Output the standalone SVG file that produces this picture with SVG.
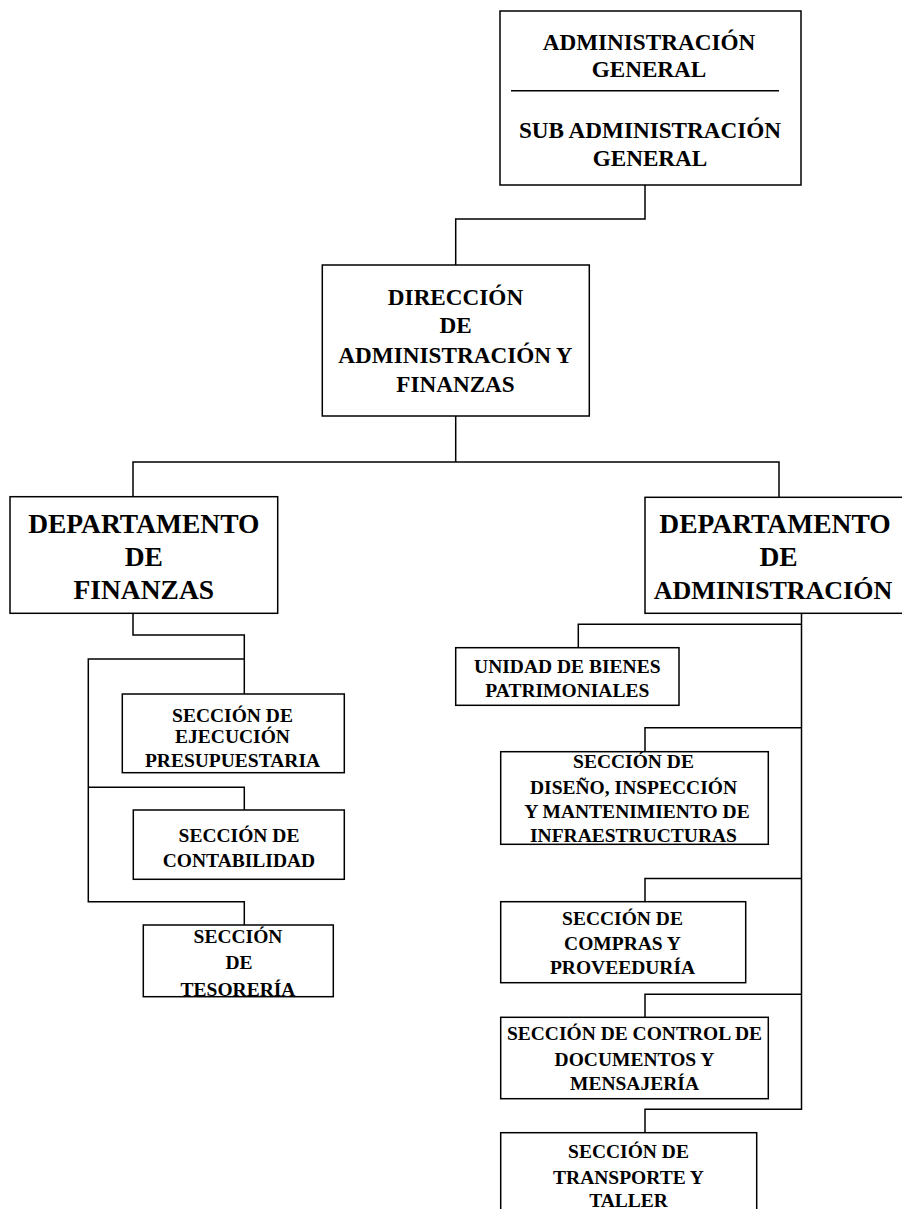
<svg xmlns="http://www.w3.org/2000/svg" width="902" height="1209" viewBox="0 0 902 1209">
<style>
.box{fill:#fff;stroke:#000;stroke-width:1.5}
.ln{fill:none;stroke:#000;stroke-width:1.5}
text{font-family:"Liberation Serif","Times New Roman",serif;font-weight:bold;fill:#000;text-anchor:middle}
.t23{font-size:23.2px}
.t27{font-size:27.5px}
.t19{font-size:19.5px}
</style>
<rect width="902" height="1209" fill="#fff"/>
<g id="connectors">
<polyline class="ln" points="645,185 645,219 455.7,219 455.7,265"/>
<polyline class="ln" points="455.7,416 455.7,462"/>
<polyline class="ln" points="133,497 133,462 779,462 779,497"/>
<polyline class="ln" points="133,613 133,635 244.3,635 244.3,694"/>
<polyline class="ln" points="244.3,659 88.3,659 88.3,901.7 244.3,901.7 244.3,925"/>
<polyline class="ln" points="88.3,787.3 244.3,787.3 244.3,810"/>
<polyline class="ln" points="801.5,613 801.5,1109.3 645,1109.3 645,1132.7"/>
<polyline class="ln" points="801.5,624.3 578.3,624.3 578.3,647.7"/>
<polyline class="ln" points="801.5,727.7 645,727.7 645,751.7"/>
<polyline class="ln" points="801.5,878.5 645,878.5 645,901.7"/>
<polyline class="ln" points="801.5,994.3 645,994.3 645,1017.3"/>
</g>
<g id="n-admin-general">
<rect class="box" x="500" y="11" width="301" height="174"/>
<line class="ln" x1="511" y1="90.7" x2="779" y2="90.7"/>
<text class="t23" x="649" y="50">ADMINISTRACIÓN</text>
<text class="t23" x="649" y="77.3">GENERAL</text>
<text class="t23" x="650" y="138">SUB ADMINISTRACIÓN</text>
<text class="t23" x="650" y="165.5">GENERAL</text>
</g>
<g id="n-direccion">
<rect class="box" x="322.3" y="265" width="267" height="151"/>
<text class="t23" x="455.5" y="305">DIRECCIÓN</text>
<text class="t23" x="455.5" y="333.3">DE</text>
<text class="t23" x="455.5" y="363.3">ADMINISTRACIÓN Y</text>
<text class="t23" x="455.5" y="392.3">FINANZAS</text>
</g>
<g id="n-dep-finanzas">
<rect class="box" x="10" y="496.7" width="267.7" height="116.6"/>
<text class="t27" x="143.8" y="532.7">DEPARTAMENTO</text>
<text class="t27" x="143.8" y="566">DE</text>
<text class="t27" x="143.8" y="599">FINANZAS</text>
</g>
<g id="n-dep-administracion">
<rect class="box" x="645" y="497.3" width="268" height="116"/>
<text class="t27" x="775" y="532.7">DEPARTAMENTO</text>
<text class="t27" x="778.5" y="566">DE</text>
<text x="773" y="599.3" style="font-size:26px">ADMINISTRACIÓN</text>
</g>
<g id="n-ejecucion">
<rect class="box" x="122.3" y="694" width="222" height="78.7"/>
<text class="t19" x="232.5" y="721.7">SECCIÓN DE</text>
<text class="t19" x="232.5" y="743.3">EJECUCIÓN</text>
<text class="t19" x="232.5" y="767.3">PRESUPUESTARIA</text>
</g>
<g id="n-contabilidad">
<rect class="box" x="133.3" y="810" width="211" height="69.3"/>
<text class="t19" x="239" y="841.7">SECCIÓN DE</text>
<text class="t19" x="239" y="866.7">CONTABILIDAD</text>
</g>
<g id="n-tesoreria">
<rect class="box" x="143.3" y="925" width="190" height="71.7"/>
<text class="t19" x="238" y="943.3">SECCIÓN</text>
<text class="t19" x="239" y="969.3">DE</text>
<text class="t19" x="238" y="996">TESORERÍA</text>
</g>
<g id="n-bienes">
<rect class="box" x="455.7" y="647.7" width="223.3" height="57.6"/>
<text class="t19" x="567.3" y="672.7">UNIDAD DE BIENES</text>
<text class="t19" x="567.3" y="696.7">PATRIMONIALES</text>
</g>
<g id="n-diseno">
<rect class="box" x="500.7" y="751.7" width="267.6" height="92.6"/>
<text class="t19" x="633.5" y="768.3">SECCIÓN DE</text>
<text class="t19" x="633.5" y="794.3">DISEÑO, INSPECCIÓN</text>
<text class="t19" x="637" y="818.3">Y MANTENIMIENTO DE</text>
<text class="t19" x="633.5" y="841.7">INFRAESTRUCTURAS</text>
</g>
<g id="n-compras">
<rect class="box" x="500.7" y="901.7" width="245" height="81"/>
<text class="t19" x="622.5" y="925">SECCIÓN DE</text>
<text class="t19" x="622.5" y="950">COMPRAS Y</text>
<text class="t19" x="622.5" y="974">PROVEEDURÍA</text>
</g>
<g id="n-control">
<rect class="box" x="500.7" y="1017.3" width="267.6" height="81.4"/>
<text class="t19" x="634.5" y="1040">SECCIÓN DE CONTROL DE</text>
<text class="t19" x="634.5" y="1066">DOCUMENTOS Y</text>
<text class="t19" x="634.5" y="1090">MENSAJERÍA</text>
</g>
<g id="n-transporte">
<rect class="box" x="500.7" y="1132.7" width="256" height="90"/>
<text class="t19" x="628.5" y="1158">SECCIÓN DE</text>
<text class="t19" x="628.5" y="1184">TRANSPORTE Y</text>
<text class="t19" x="628.5" y="1207">TALLER</text>
</g>
</svg>
